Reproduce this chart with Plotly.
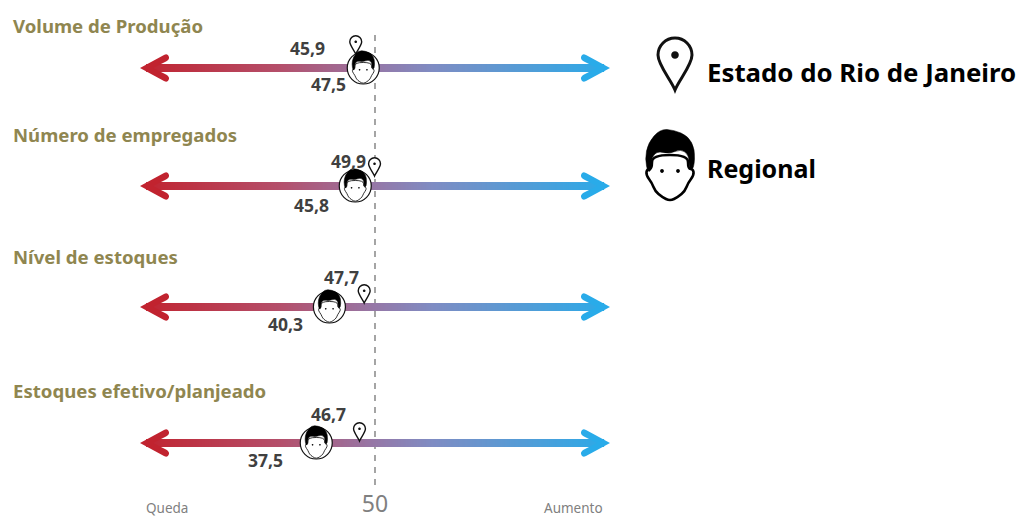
import numpy as np
import plotly.graph_objects as go

# --- data ---
categories = ["Volume de Produção", "Número de empregados", "Nível de estoques", "Estoques efetivo/planjeado"]
state_values = [45.9, 49.9, 47.7, 46.7]
regional_values = [47.5, 45.8, 40.3, 37.5]
state_name = "Estado do Rio de Janeiro"
regional_name = "Regional"
scale_min, scale_mid, scale_max = 0, 50, 100
low_label, high_label = "Queda", "Aumento"

# --- layout constants (pixel space of the 1035x518 page) ---
W, H, PLOT_B = 1035, 518, 488
X0_PX, PX_PER = 140, 4.7
row_y = [68, 186, 307, 443]
title_y = [25, 134, 256, 390]
pin_tip_y = [54, 176, 303, 441]
state_lab = [(-48, 48), (-26, 161), (-23, 277), (-31, 414)]
reg_lab = [(-35, 84), (-44, 205), (-44, 324), (-51, 460)]
TITLE_COL, VAL_COL = "#8f8650", "#404040"
LAB_FONT = "Noto Sans"

def px2x(px):
    return (px - X0_PX) / PX_PER

def fmt(v):
    return f"{v:.1f}".replace(".", ",")

def circle(cx, cy, r):
    k = 0.5523 * r
    return (f"M{cx-r},{-cy} C{cx-r},{-(cy-k)} {cx-k},{-(cy-r)} {cx},{-(cy-r)} "
            f"C{cx+k},{-(cy-r)} {cx+r},{-(cy-k)} {cx+r},{-cy} "
            f"C{cx+r},{-(cy+k)} {cx+k},{-(cy+r)} {cx},{-(cy+r)} "
            f"C{cx-k},{-(cy+r)} {cx-r},{-(cy+k)} {cx-r},{-cy} Z")

def smooth(pts):
    n = len(pts)
    mid = lambda a, b: ((a[0]+b[0])/2, (a[1]+b[1])/2)
    s = mid(pts[-1], pts[0])
    d = f"M{s[0]:.2f},{-s[1]:.2f} "
    for i in range(n):
        m = mid(pts[i], pts[(i+1) % n])
        d += f"Q{pts[i][0]:.2f},{-pts[i][1]:.2f} {m[0]:.2f},{-m[1]:.2f} "
    return d + "Z"

shapes = []

def pshape(x, y, path, fill="rgba(0,0,0,0)", line="#000", lw=1.0, layer="above"):
    shapes.append(dict(type="path", xref="x", yref="y", xsizemode="pixel", ysizemode="pixel",
                       xanchor=x, yanchor=y, path=path, fillcolor=fill,
                       line=dict(color=line, width=lw), layer=layer))

def draw_pin(x, tip_y, s, lw):
    r = 17 * s
    cy = -35 * s
    k = 0.5523 * r
    p = (f"M0,0 C{-4*s},{10*s} {-r},{-(cy+10*s)} {-r},{-cy} "
         f"C{-r},{-(cy-k)} {-k},{-(cy-r)} 0,{-(cy-r)} "
         f"C{k},{-(cy-r)} {r},{-(cy-k)} {r},{-cy} "
         f"C{r},{-(cy+10*s)} {4*s},{10*s} 0,0 Z")
    pshape(x, tip_y, p, fill="#ffffff", line="#111", lw=lw)
    pshape(x, tip_y, circle(0, cy, 3.8*s), fill="#111", line="#111", lw=0)

HAIR = [(-22,6),(-25,-8),(-22,-24),(-10,-38),(4,-37),(18,-31),(25,-18),(24,2),(19,2),
        (19,-12),(11,-18),(-1,-13),(-13,-16),(-19,-8),(-18,2)]
FACE = [(-18,2),(-23,2),(-24,8),(-18,16),(-15,24),(-8,30),(0,34),(8,30),(15,24),(18,16),(24,8),(23,2),(18,2),(18,-12),(-18,-12)]

def draw_face(x, y, s, lw, ring=None):
    if ring:
        pshape(x, y, circle(0, 0, ring), fill="#ffffff", line="#111", lw=1.2)
    pshape(x, y, smooth([(a*s, b*s) for a, b in FACE]), fill="#ffffff", line="#000", lw=lw)
    pshape(x, y, smooth([(a*s, b*s) for a, b in HAIR]), fill="#000", line="#000", lw=0.5)
    for ex in (-8, 8):
        pshape(x, y, circle(ex*s, 4*s, 1.9*s), fill="#000", line="#000", lw=0)

def draw_head(y, direction):
    col = "#c1232f" if direction < 0 else "#29abe9"
    d = -direction  # +1 means head extends to the right of the tip
    path = (f"M0,0 L{d*24},13 Q{d*28},15 {d*29},11 Q{d*29.5},8.5 {d*26},6.5 "
            f"L{d*13},0 L{d*26},-6.5 Q{d*29.5},-8.5 {d*29},-11 Q{d*28},-15 {d*24},-13 Z")
    tx = scale_min if direction < 0 else scale_max
    pshape(tx, y, path, fill=col, line=col, lw=0)

fig = go.Figure()

# gradient bars
grad_x = np.linspace(scale_min + 1.5, scale_max - 1.5, 240)
cs = [[0, "#c1232f"], [0.3, "#b4506c"], [0.5, "#9578a8"], [0.62, "#7f8cc3"], [1, "#29abe9"]]
for y in row_y:
    fig.add_trace(go.Heatmap(x=grad_x, y=[y-2, y+2], z=[grad_x, grad_x], colorscale=cs,
                             zmin=scale_min, zmax=scale_max, showscale=False, hoverinfo="skip",
                             zsmooth="best"))

# dashed 50 line
shapes.append(dict(type="line", xref="x", yref="y", x0=scale_mid, x1=scale_mid, y0=35, y1=485,
                   line=dict(color="#7f7f7f", width=1.4, dash="6px,6px"), layer="below"))

annotations = []
for i, cat in enumerate(categories):
    draw_head(row_y[i], -1)
    draw_head(row_y[i], 1)
    draw_pin(state_values[i], pin_tip_y[i], 0.35, 1.4)
    draw_face(regional_values[i], row_y[i], 0.46, 0.8, ring=16)
    annotations.append(dict(x=px2x(11), y=title_y[i], text=f"<b>{cat}</b>", xanchor="left", yanchor="middle",
                            showarrow=False, font=dict(family=LAB_FONT, size=18.6, color=TITLE_COL)))
    annotations.append(dict(x=state_values[i], y=state_lab[i][1], xshift=state_lab[i][0], text=f"<b>{fmt(state_values[i])}</b>",
                            showarrow=False, font=dict(family=LAB_FONT, size=17.5, color=VAL_COL)))
    annotations.append(dict(x=regional_values[i], y=reg_lab[i][1], xshift=reg_lab[i][0], text=f"<b>{fmt(regional_values[i])}</b>",
                            showarrow=False, font=dict(family=LAB_FONT, size=17.5, color=VAL_COL)))

# legend
draw_pin(px2x(675), 90, 1.0, 3)
draw_face(px2x(670), 167, 1.0, 2.6)
annotations.append(dict(x=px2x(705), y=72, text=f"<b>{state_name}</b>", xanchor="left", showarrow=False,
                        font=dict(family=LAB_FONT, size=25.8, color="#000")))
annotations.append(dict(x=px2x(705), y=168, text=f"<b>{regional_name}</b>", xanchor="left", showarrow=False,
                        font=dict(family=LAB_FONT, size=25, color="#000")))

# scale end labels (anchored at the axis line, shifted below the plot area)
annotations.append(dict(x=px2x(167), y=PLOT_B, yshift=-20, text=low_label, showarrow=False,
                        font=dict(family=LAB_FONT, size=13.5, color="#808080")))
annotations.append(dict(x=px2x(573), y=PLOT_B, yshift=-20, text=high_label, showarrow=False,
                        font=dict(family=LAB_FONT, size=13.5, color="#808080")))

fig.update_layout(
    width=W, height=H, margin=dict(l=0, r=0, t=0, b=H-PLOT_B),
    paper_bgcolor="white", plot_bgcolor="white", showlegend=False,
    shapes=shapes, annotations=annotations,
    xaxis=dict(range=[px2x(0), px2x(W)], showgrid=False, zeroline=False, showline=False,
               tickmode="array", tickvals=[scale_mid], ticktext=[str(scale_mid)], ticks="",
               tickfont=dict(family="Noto Sans", size=23, color="#808080")),
    yaxis=dict(range=[PLOT_B, 0], showgrid=False, zeroline=False, showline=False, showticklabels=False),
)
fig.write_html("out.html", config=dict(displayModeBar=False),
               post_script="document.body.style.margin='0';document.body.style.overflow='hidden';")
